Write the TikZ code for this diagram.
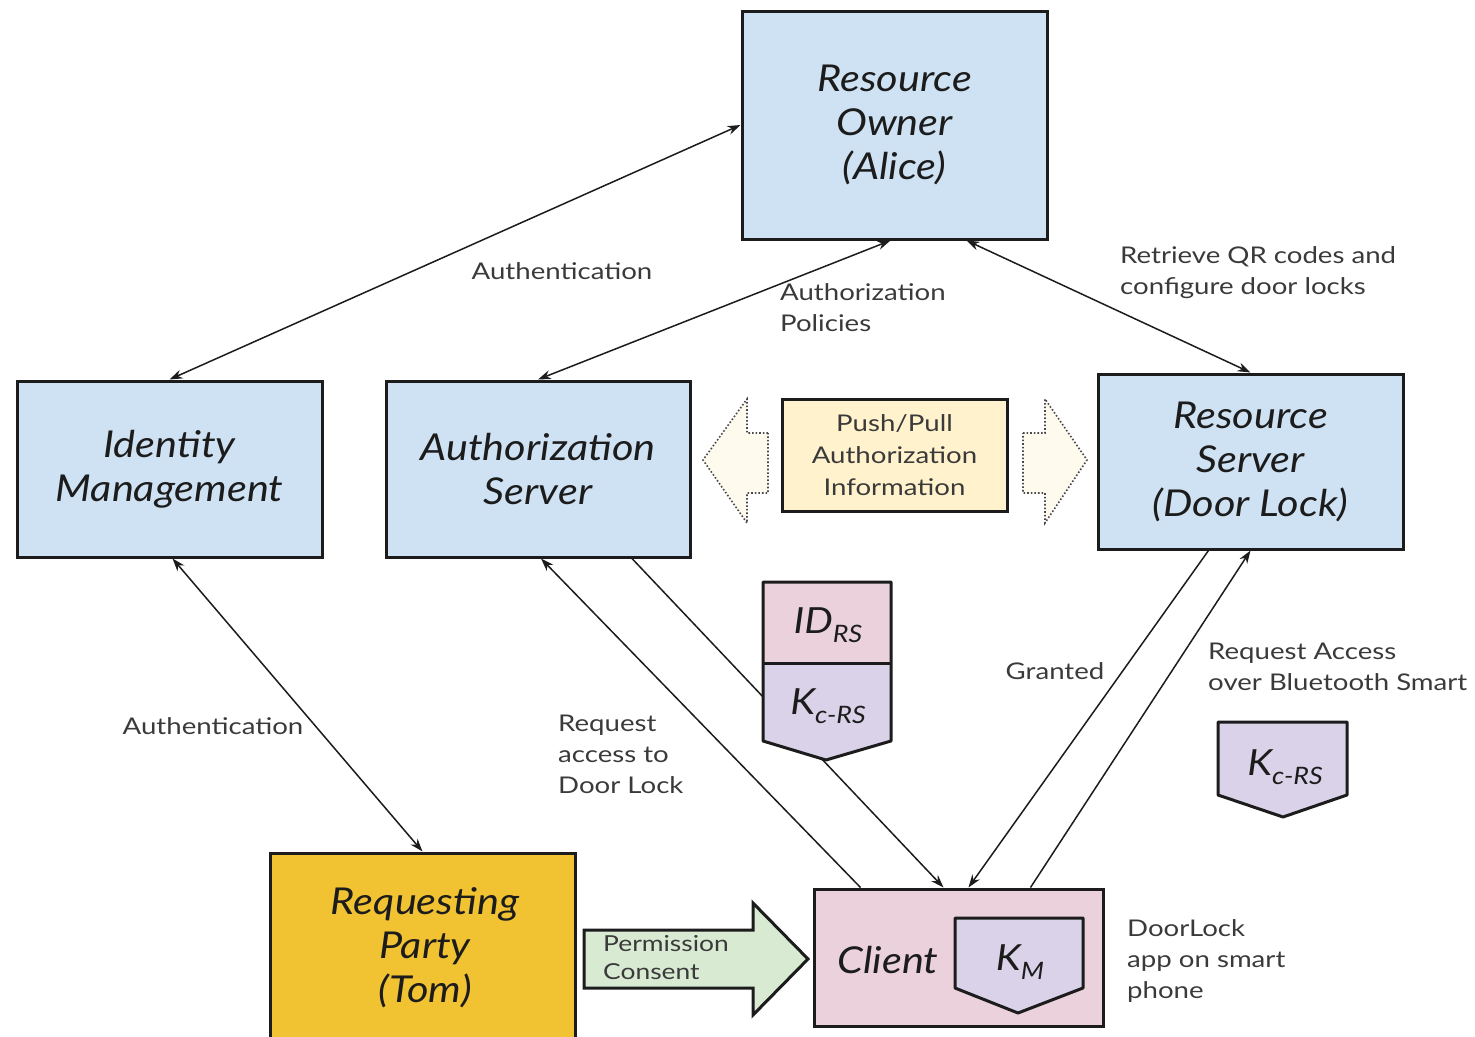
\documentclass[tikz,border=0pt]{standalone}
\usepackage{fontspec}
\setmainfont{Lato}[FakeStretch=1.2]
\newfontfamily\boxfont{Lato}[FakeStretch=1.12]
\usetikzlibrary{arrows.meta}
\definecolor{boxblue}{HTML}{CFE2F3}
\definecolor{boxpink}{HTML}{EAD1DC}
\definecolor{boxpurple}{HTML}{D9D2E9}
\definecolor{boxyellow}{HTML}{FFF2CC}
\definecolor{boxgold}{HTML}{F1C232}
\definecolor{boxgreen}{HTML}{D9EAD3}
\definecolor{cream}{HTML}{FFFAEE}
\definecolor{ink}{HTML}{1C1C1C}
\definecolor{labelgray}{HTML}{3A3A3A}
\newcommand{\lowsub}[1]{\raisebox{-0.5ex}{\fontsize{24}{24}\selectfont\itshape #1}}
\begin{document}
\begin{tikzpicture}[x=1pt,y=-1pt,
  box/.style={draw=ink,line width=3pt,rectangle,inner sep=0pt,align=center,text=ink,
    font=\boxfont\fontsize{37}{44}\selectfont\itshape},
  conn/.style={line width=1.5pt,draw=ink,-{Stealth[length=13pt,width=9pt]}},
  bconn/.style={line width=1.5pt,draw=ink,{Stealth[length=13pt,width=9pt]}-{Stealth[length=13pt,width=9pt]}},
  lbl/.style={font=\fontsize{23}{31}\selectfont,text=labelgray,align=left,inner sep=0pt},
  shp/.style={draw=ink,line width=3pt,line join=round},
  dotarrow/.style={draw=ink!80,line width=1.6pt,dotted,fill=cream},
  keytxt/.style={inner sep=0pt,text=ink,font=\boxfont\fontsize{36}{36}\selectfont\itshape}
]
\useasboundingbox (0,0) rectangle (1475,1036);

% main boxes
\node[box,fill=boxblue,minimum width=305pt,minimum height=228pt] (ro) at (894.5,125) {Resource\\Owner\\(Alice)};
\node[box,fill=boxblue,minimum width=305pt,minimum height=176pt] (idm) at (169.5,469) {Identity\\Management};
\node[box,fill=boxblue,minimum width=304pt,minimum height=176pt] (as) at (538,469) {Authorization\\Server};
\node[box,fill=boxblue,minimum width=305pt,minimum height=175pt] (rs) at (1250.5,461.5) {Resource\\Server\\(Door Lock)};
\node[box,fill=boxgold,minimum width=305pt,minimum height=190pt] (rp) at (422.5,948) {};
\node[inner sep=0pt,align=center,text=ink,font=\boxfont\fontsize{37}{44}\selectfont\itshape] (rptxt) at (425,948) {Requesting\\Party\\(Tom)};
\node[box,fill=boxpink,minimum width=289pt,minimum height=137pt] (cl) at (958.5,957.5) {};
\node[keytxt,font=\boxfont\fontsize{37}{37}\selectfont\itshape] (cltxt) at (888,960) {Client};
\node[draw=ink,line width=3pt,fill=boxyellow,minimum width=225pt,minimum height=112pt,inner sep=0pt,
  align=center,text=labelgray,font=\fontsize{23}{32}\selectfont] (pp) at (894.5,455) {Push/Pull\\Authorization\\Information};

% dotted arrows
\draw[dotarrow] (768,433) -- (747,433) -- (747,399) -- (703,460) -- (747,523) -- (747,493) -- (768,493) -- cycle;
\draw[dotarrow] (1023,433) -- (1045,433) -- (1045,399) -- (1087,460) -- (1045,523) -- (1045,493) -- (1023,493) -- cycle;

% permission arrow
\draw[shp,fill=boxgreen,line join=miter] (584,930) -- (753,930) -- (753,903) -- (808,959) -- (753,1015) -- (753,988) -- (584,988) -- cycle;
\node[lbl,font=\fontsize{22}{28}\selectfont] (perm) at (603,958) [anchor=west] {Permission\\Consent};

% connectors
\draw[bconn] (idm.north) -- (ro.west);
\node[lbl] (l1) at (562,271) {Authentication};
\draw[bconn] (as.north) -- ([xshift=-4pt]ro.south);
\node[lbl,anchor=west] (l2) at (780,308) {Authorization\\Policies};
\draw[bconn] ([xshift=72pt]ro.south) -- (rs.north);
\node[lbl,anchor=west] (l3) at (1120,273) {Retrieve QR codes and\\configure door locks};
\draw[bconn] ([xshift=3pt]idm.south) -- (rp.north);
\node[lbl] (l4) at (213,726) {Authentication};
\draw[conn] ([xshift=-98pt]cl.north) -- ([xshift=3pt]as.south);
\node[lbl,anchor=west] (l5) at (558,754) {Request\\access to\\Door Lock};
\draw[conn] ([xshift=94pt]as.south) -- ([xshift=-15pt]cl.north);
\draw[conn] ([xshift=-42pt]rs.south) -- ([xshift=10pt]cl.north);
\node[lbl] (l6) at (1055,671) {Granted};
\draw[conn] ([xshift=72pt]cl.north) -- (rs.south);
\node[lbl,anchor=west] (l7) at (1208,667) {Request Access\\over Bluetooth Smart};
\node[lbl,anchor=west] (l8) at (1127,961) {DoorLock\\app on smart\\phone};

% ID_RS / K_c-RS token
\fill[boxpink] (763,582) rectangle (891,663);
\fill[boxpurple] (763,663) -- (891,663) -- (891,741) -- (826,760) -- (763,741) -- cycle;
\draw[shp] (763,582) -- (891,582) -- (891,741) -- (826,760) -- (763,741) -- cycle;
\draw[shp] (763,663) -- (891,663);
\node[keytxt] (idrs) at (828,625) {ID\lowsub{RS}};
\node[keytxt] (kcrs) at (828,706) {K\lowsub{c-RS}};

% right K_c-RS token
\draw[shp,fill=boxpurple] (1218,722) -- (1347,722) -- (1347,795) -- (1283,817) -- (1218,795) -- cycle;
\node[keytxt] (kcrs2) at (1285,767) {K\lowsub{c-RS}};

% K_M token inside client
\draw[shp,fill=boxpurple] (955,918) -- (1083,918) -- (1083,988) -- (1018,1013) -- (955,988) -- cycle;
\node[keytxt] (km) at (1020,962) {K\lowsub{M}};
\end{tikzpicture}
\end{document}
